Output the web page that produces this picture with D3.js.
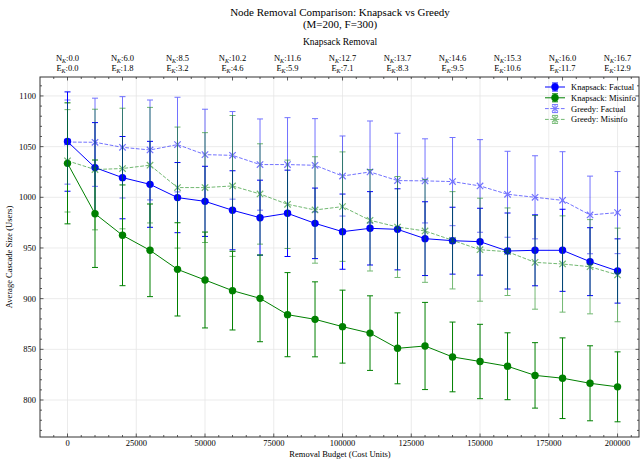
<!DOCTYPE html>
<html><head><meta charset="utf-8">
<script src="https://cdn.jsdelivr.net/npm/d3@7"></script>
<style>
body{margin:0;background:#fff;}
text{font-family:"Liberation Serif","DejaVu Serif",serif;fill:#000;}
</style></head>
<body><svg id="c" width="642" height="464"></svg>
<script>
const budgets = [0,10000,20000,30000,40000,50000,60000,70000,80000,90000,100000,110000,120000,130000,140000,150000,160000,170000,180000,190000,200000];
const knapFactual = [1055,1029.3,1019.4,1012.8,999.7,996,987.2,979.9,984.2,974.3,966.1,969.4,968.4,959.2,957.2,956.2,947,947.7,947.7,936.5,927.3];
const knapFactualErr = [49,44.4,40.6,42.4,34.6,34.6,39,37,42.6,34.8,37.1,36.2,40,36.4,33,33,37.5,35,40.5,33.5,31.7];
const knapMisinfo = [1033.5,983.8,962.5,947.7,928.9,918.4,907.9,900.3,884.2,879.6,872.4,866,851,853.3,842.5,838,833.3,824.3,821.5,816.5,813];
const knapMisinfoErr = [59.7,53,49.7,45.7,46,47.3,38.8,42.8,41.5,37,36,36.8,35,43,34.4,36.7,33,32.3,39.8,37,34.5];
const greedyFactual = [1054.5,1054.3,1049.3,1046.7,1052,1042.1,1041.4,1032.3,1032.3,1031.6,1021,1025,1016.5,1016.2,1015.5,1011.2,1003,1000,997,982.6,984.9];
const greedyFactualErr = [41.5,43.5,50,49.3,46.7,44.8,43.2,45,46.3,46,39.5,50.3,46.7,41.5,43.5,45.7,42.4,41,48,38.3,40.5];
const greedyMisinfo = [1036,1027.4,1028.4,1031.7,1009.6,1009.6,1011.2,1003.3,993.1,987.5,990.8,977.3,970.7,966.8,957.6,948.3,946.3,935.8,934.2,931.5,923.4];
const greedyMisinfoErr = [50.5,59.5,59.5,57,59.7,54.2,69.5,49.5,43.6,52.5,54,50,49.8,50.7,48,50.8,43.2,46.2,47.5,46.5,46.2];
const topBudgets = [0,20000,40000,60000,80000,100000,120000,140000,160000,180000,200000];
const topN = ["0.0","6.0","8.5","10.2","11.6","12.7","13.7","14.6","15.3","16.0","16.7"];
const topE = ["0.0","1.8","3.2","4.6","5.9","7.1","8.3","9.5","10.6","11.7","12.9"];
const xTicks = [0,25000,50000,75000,100000,125000,150000,175000,200000];
const yTicks = [800,850,900,950,1000,1050,1100];

const series = [
  {name:"Knapsack: Factual", y:knapFactual, e:knapFactualErr, color:"#0000ff", op:1, dash:null, marker:"o"},
  {name:"Knapsack: Misinfo", y:knapMisinfo, e:knapMisinfoErr, color:"#008000", op:1, dash:null, marker:"o"},
  {name:"Greedy: Factual", y:greedyFactual, e:greedyFactualErr, color:"#0000ff", op:0.55, dash:"3.7,1.6", marker:"x"},
  {name:"Greedy: Misinfo", y:greedyMisinfo, e:greedyMisinfoErr, color:"#008000", op:0.55, dash:"3.7,1.6", marker:"x"}
];

const L=40, R=639, T=77, B=437;
const x = d3.scaleLinear().domain([-10000,207800]).range([L,R]);
const y = d3.scaleLinear().domain([763.5,1118.7]).range([B,T]);
const svg = d3.select("#c");

// grid
const g = svg.append("g");
g.selectAll(".gx").data(xTicks).enter().append("line")
  .attr("x1",d=>x(d)).attr("x2",d=>x(d)).attr("y1",T).attr("y2",B)
  .attr("stroke","#e6e6e6").attr("stroke-width",0.8);
g.selectAll(".gy").data(yTicks).enter().append("line")
  .attr("x1",L).attr("x2",R).attr("y1",d=>y(d)).attr("y2",d=>y(d))
  .attr("stroke","#e6e6e6").attr("stroke-width",0.8);

// series
series.forEach(s=>{
  const sg = svg.append("g").attr("opacity", s.op);
  const pts = budgets.map((b,i)=>({b, v:s.y[i], e:s.e[i]}));
  sg.selectAll(".eb").data(pts).enter().append("line")
    .attr("x1",d=>x(d.b)).attr("x2",d=>x(d.b)).attr("y1",d=>y(d.v-d.e)).attr("y2",d=>y(d.v+d.e))
    .attr("stroke",s.color).attr("stroke-width",1);
  [-1,1].forEach(sign=>{
    sg.selectAll(".cap"+sign).data(pts).enter().append("line")
      .attr("x1",d=>x(d.b)-3).attr("x2",d=>x(d.b)+3)
      .attr("y1",d=>y(d.v+sign*d.e)).attr("y2",d=>y(d.v+sign*d.e))
      .attr("stroke",s.color).attr("stroke-width",1);
  });
  const line = d3.line().x(d=>x(d.b)).y(d=>y(d.v));
  sg.append("path").datum(pts).attr("d",line).attr("fill","none")
    .attr("stroke",s.color).attr("stroke-width",1).attr("stroke-dasharray",s.dash);
  if(s.marker==="o"){
    sg.selectAll(".m").data(pts).enter().append("circle")
      .attr("cx",d=>x(d.b)).attr("cy",d=>y(d.v)).attr("r",3.7).attr("fill",s.color);
  } else {
    sg.selectAll(".m").data(pts).enter().append("path")
      .attr("d",d=>{const cx=x(d.b), cy=y(d.v), r=3.2;return `M${cx-r},${cy-r}L${cx+r},${cy+r}M${cx-r},${cy+r}L${cx+r},${cy-r}`;})
      .attr("stroke",s.color).attr("stroke-width",1.2).attr("fill","none");
  }
});

// frame & ticks
const ax = svg.append("g");
ax.append("rect").attr("x",L).attr("y",T).attr("width",R-L).attr("height",B-T)
  .attr("fill","none").attr("stroke","#333").attr("stroke-width",1);
const xMinor = d3.range(-5000, 207800, 5000).filter(v=>v%25000!==0);
const yMinor = d3.range(770, 1120, 10).filter(v=>v%50!==0);
const topMinor = d3.range(-5000, 207800, 5000).filter(v=>v%20000!==0);
function vt(v, y0, len){ax.append("line").attr("x1",x(v)).attr("x2",x(v)).attr("y1",y0).attr("y2",y0+len).attr("stroke","#333").attr("stroke-width",0.8);}
function ht(v, x0, len){ax.append("line").attr("y1",y(v)).attr("y2",y(v)).attr("x1",x0).attr("x2",x0+len).attr("stroke","#333").attr("stroke-width",0.8);}
xTicks.forEach(v=>vt(v,B,-3.5));
xMinor.forEach(v=>vt(v,B,-2));
topBudgets.forEach(v=>vt(v,T,3.5));
topMinor.forEach(v=>vt(v,T,2));
yTicks.forEach(v=>{ht(v,L,3.5);ht(v,R,-3.5);});
yMinor.forEach(v=>{ht(v,L,2);ht(v,R,-2);});

// tick labels
ax.selectAll(".xl").data(xTicks).enter().append("text")
  .attr("x",d=>x(d)).attr("y",B+9).attr("text-anchor","middle").attr("font-size","8.5px").text(d=>d);
ax.selectAll(".yl").data(yTicks).enter().append("text")
  .attr("x",L-4).attr("y",d=>y(d)+3).attr("text-anchor","end").attr("font-size","8.5px").text(d=>d);

// top labels
topBudgets.forEach((b,i)=>{
  const t1 = ax.append("text").attr("x",x(b)).attr("y",T-16).attr("text-anchor","middle").attr("font-size","8.5px");
  t1.append("tspan").text("N");
  t1.append("tspan").attr("font-style","italic").attr("font-size","6px").attr("dy",1.5).text("K");
  t1.append("tspan").attr("dy",-1.5).text(":"+topN[i]);
  const t2 = ax.append("text").attr("x",x(b)).attr("y",T-6).attr("text-anchor","middle").attr("font-size","8.5px");
  t2.append("tspan").text("E");
  t2.append("tspan").attr("font-style","italic").attr("font-size","6px").attr("dy",1.5).text("K");
  t2.append("tspan").attr("dy",-1.5).text(":"+topE[i]);
});

// titles
svg.append("text").attr("x",340).attr("y",16).attr("text-anchor","middle").attr("font-size","11px").text("Node Removal Comparison: Knapsack vs Greedy");
svg.append("text").attr("x",340).attr("y",28).attr("text-anchor","middle").attr("font-size","11px").text("(M=200, F=300)");
svg.append("text").attr("x",340).attr("y",45).attr("text-anchor","middle").attr("font-size","9.5px").text("Knapsack Removal");
svg.append("text").attr("x",340).attr("y",457).attr("text-anchor","middle").attr("font-size","8.5px").text("Removal Budget (Cost Units)");
svg.append("text").attr("transform",`translate(12,${(T+B)/2}) rotate(-90)`).attr("text-anchor","middle").attr("font-size","8.5px").text("Average Cascade Size (Users)");

// legend
const lg = svg.append("g");
series.forEach((s,i)=>{
  const cy = 87 + i*10.8, cx = 555;
  const e = lg.append("g").attr("opacity",s.op);
  e.append("line").attr("x1",cx-10).attr("x2",cx+10).attr("y1",cy).attr("y2",cy).attr("stroke",s.color).attr("stroke-width",1).attr("stroke-dasharray",s.dash);
  e.append("line").attr("x1",cx).attr("x2",cx).attr("y1",cy-4).attr("y2",cy+4).attr("stroke",s.color).attr("stroke-width",1);
  [-4,4].forEach(o=>e.append("line").attr("x1",cx-3).attr("x2",cx+3).attr("y1",cy+o).attr("y2",cy+o).attr("stroke",s.color).attr("stroke-width",1));
  if(s.marker==="o") e.append("circle").attr("cx",cx).attr("cy",cy).attr("r",3.7).attr("fill",s.color);
  else e.append("path").attr("d",`M${cx-3},${cy-3}L${cx+3},${cy+3}M${cx-3},${cy+3}L${cx+3},${cy-3}`).attr("stroke",s.color).attr("stroke-width",1.2).attr("fill","none");
  lg.append("text").attr("x",571).attr("y",cy+3).attr("font-size","8.5px").text(s.name);
});
</script></body></html>
